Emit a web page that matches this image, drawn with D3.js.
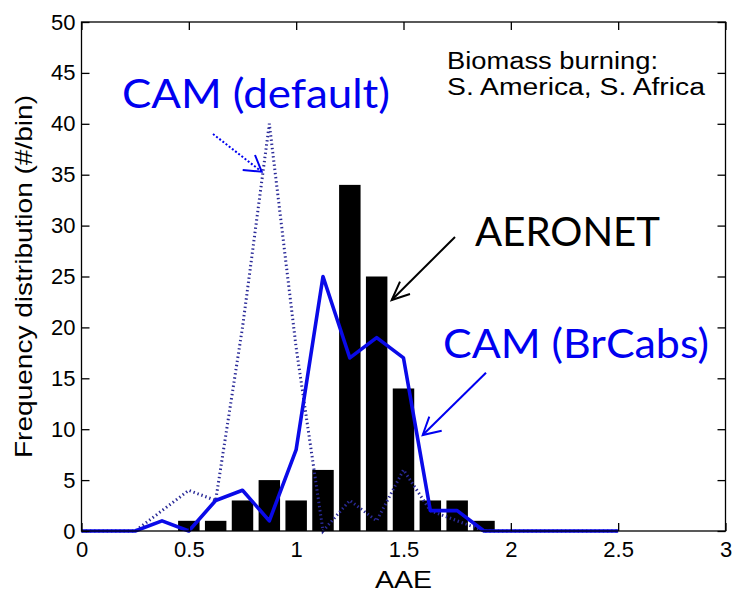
<!DOCTYPE html>
<html>
<head>
<meta charset="utf-8">
<script src="https://cdn.jsdelivr.net/npm/d3@7"></script>
<style>
  html, body { margin: 0; padding: 0; background: #fff; }
  svg { display: block; }
</style>
</head>
<body>
<svg id="chart" width="733" height="592"></svg>
<script>
// ---- data ----
const binCenters    = [0.5, 0.625, 0.75, 0.875, 1.0, 1.125, 1.25, 1.375, 1.5, 1.625, 1.75, 1.875];
const aeronetCounts = [1, 1, 3, 5, 3, 6, 34, 25, 14, 3, 3, 1];

const camX       = [0, 0.125, 0.25, 0.375, 0.5, 0.625, 0.75, 0.875, 1.0, 1.125, 1.25, 1.375, 1.5, 1.625, 1.75, 1.875, 2.0, 2.125, 2.25, 2.375, 2.5];
const camBrCabs  = [0, 0, 0, 1, 0, 3, 4, 1, 8, 25, 17, 19, 17, 2, 2, 0, 0, 0, 0, 0, 0];
const camDefault = [0, 0, 0, 2, 4, 3, 20, 40, 18, 0, 3, 1, 6, 2, 1, 0, 0, 0, 0, 0, 0];

const xTicks = [0, 0.5, 1, 1.5, 2, 2.5, 3];
const xTickLabels = ["0", "0.5", "1", "1.5", "2", "2.5", "3"];
const yTicks = [0, 5, 10, 15, 20, 25, 30, 35, 40, 45, 50];
const yTickLabels = ["0", "5", "10", "15", "20", "25", "30", "35", "40", "45", "50"];
const binWidth = 0.1;

// ---- layout ----
const L = 81.5, R = 725.5, T = 22, B = 531;
const svg = d3.select("#chart");
const x = d3.scaleLinear().domain([0, 3]).range([L, R]);
const y = d3.scaleLinear().domain([0, 50]).range([B, T]);
const tickLen = 8;
const sans = "'Liberation Sans', Arial, sans-serif";
const annFont = "Lato, 'Open Sans', sans-serif";

// bars
svg.append("g").selectAll("rect")
  .data(binCenters.map((c, i) => ({c, v: aeronetCounts[i]})))
  .join("rect")
  .attr("x", d => x(d.c - binWidth / 2))
  .attr("width", d => x(d.c + binWidth / 2) - x(d.c - binWidth / 2))
  .attr("y", d => y(d.v))
  .attr("height", d => y(0) - y(d.v))
  .attr("fill", "#000");

const line = d3.line().x(d => x(d[0])).y(d => y(d[1]));

// CAM default (dotted)
svg.append("path")
  .datum(camX.map((v, i) => [v, camDefault[i]]))
  .attr("d", line)
  .attr("fill", "none")
  .attr("stroke", "#2a2a98")
  .attr("stroke-width", 3)
  .attr("stroke-dasharray", "1.4,2.8");

// CAM BrCabs (solid)
svg.append("path")
  .datum(camX.map((v, i) => [v, camBrCabs[i]]))
  .attr("d", line)
  .attr("fill", "none")
  .attr("stroke", "#0a0ae8")
  .attr("stroke-width", 3.6)
  .attr("stroke-linejoin", "round");

// frame
svg.append("rect")
  .attr("x", L).attr("y", T).attr("width", R - L).attr("height", B - T)
  .attr("fill", "none").attr("stroke", "#000").attr("stroke-width", 1.3);

// axes using d3 axis with inward ticks
const xAxisB = d3.axisBottom(x).tickValues(xTicks).tickSizeInner(-tickLen).tickSizeOuter(0)
  .tickFormat((d, i) => xTickLabels[i]);
const gxB = svg.append("g").attr("transform", `translate(0,${B})`).call(xAxisB);
const xAxisT = d3.axisTop(x).tickValues(xTicks).tickSizeInner(-tickLen).tickSizeOuter(0).tickFormat("");
const gxT = svg.append("g").attr("transform", `translate(0,${T})`).call(xAxisT);
const yAxisL = d3.axisLeft(y).tickValues(yTicks).tickSizeInner(-tickLen).tickSizeOuter(0)
  .tickFormat((d, i) => yTickLabels[i]);
const gyL = svg.append("g").attr("transform", `translate(${L},0)`).call(yAxisL);
const yAxisR = d3.axisRight(y).tickValues(yTicks).tickSizeInner(-tickLen).tickSizeOuter(0).tickFormat("");
const gyR = svg.append("g").attr("transform", `translate(${R},0)`).call(yAxisR);

[gxB, gxT, gyL, gyR].forEach(g => {
  g.select(".domain").remove();
  g.selectAll(".tick line").attr("stroke", "#000").attr("stroke-width", 1.3);
  g.selectAll(".tick text")
    .style("font-family", sans)
    .style("font-size", "22px").attr("fill", "#000");
});
gxB.selectAll(".tick text").attr("dy", "0.71em").attr("y", 10);
gyL.selectAll(".tick text").attr("x", -6);

// axis titles
svg.append("text")
  .attr("x", x(1.5)).attr("y", 588)
  .attr("text-anchor", "middle")
  .style("font-family", sans).style("font-size", "24px")
  .attr("textLength", 57).attr("lengthAdjust", "spacingAndGlyphs")
  .text("AAE");

svg.append("text")
  .attr("transform", `translate(32,${(95 + 458) / 2}) rotate(-90)`)
  .attr("text-anchor", "middle")
  .style("font-family", sans).style("font-size", "24px")
  .attr("textLength", 363)
  .attr("lengthAdjust", "spacingAndGlyphs")
  .text("Frequency distribution (#/bin)");

// inset note
svg.append("text").attr("x", 447).attr("y", 69)
  .style("font-family", sans).style("font-size", "23px")
  .attr("textLength", 211).attr("lengthAdjust", "spacingAndGlyphs")
  .text("Biomass burning:");
svg.append("text").attr("x", 447).attr("y", 95)
  .style("font-family", sans).style("font-size", "23px")
  .attr("textLength", 258).attr("lengthAdjust", "spacingAndGlyphs")
  .text("S. America, S. Africa");

// annotations
svg.append("text").attr("x", 122).attr("y", 108)
  .style("font-family", annFont).style("font-size", "41px")
  .attr("fill", "#0000f0")
  .attr("textLength", 268).attr("lengthAdjust", "spacingAndGlyphs")
  .text("CAM (default)");
svg.append("text").attr("x", 475).attr("y", 246)
  .style("font-family", annFont).style("font-size", "41px")
  .attr("fill", "#000")
  .attr("textLength", 185).attr("lengthAdjust", "spacingAndGlyphs")
  .text("AERONET");
svg.append("text").attr("x", 443).attr("y", 358)
  .style("font-family", annFont).style("font-size", "41px")
  .attr("fill", "#0000f0")
  .attr("textLength", 266).attr("lengthAdjust", "spacingAndGlyphs")
  .text("CAM (BrCabs)");

// arrows
function arrow(x1, y1, x2, y2, w1, w2, color, dash) {
  const g = svg.append("g").attr("stroke", color).attr("stroke-width", 2).attr("fill", "none");
  const l = g.append("line").attr("x1", x1).attr("y1", y1).attr("x2", x2).attr("y2", y2);
  if (dash) l.attr("stroke-dasharray", dash);
  g.append("polyline").attr("points", `${w1[0]},${w1[1]} ${x2},${y2} ${w2[0]},${w2[1]}`);
}
arrow(213, 134, 261.7, 171.7, [242.7, 170], [255, 155], "#0000f0", "2,2");
arrow(455, 237, 391.7, 300, [410, 294], [400, 281.7], "#000", null);
arrow(486, 372.7, 422.7, 435, [441.7, 430.7], [429.3, 416.7], "#0000f0", null);
</script>
</body>
</html>
